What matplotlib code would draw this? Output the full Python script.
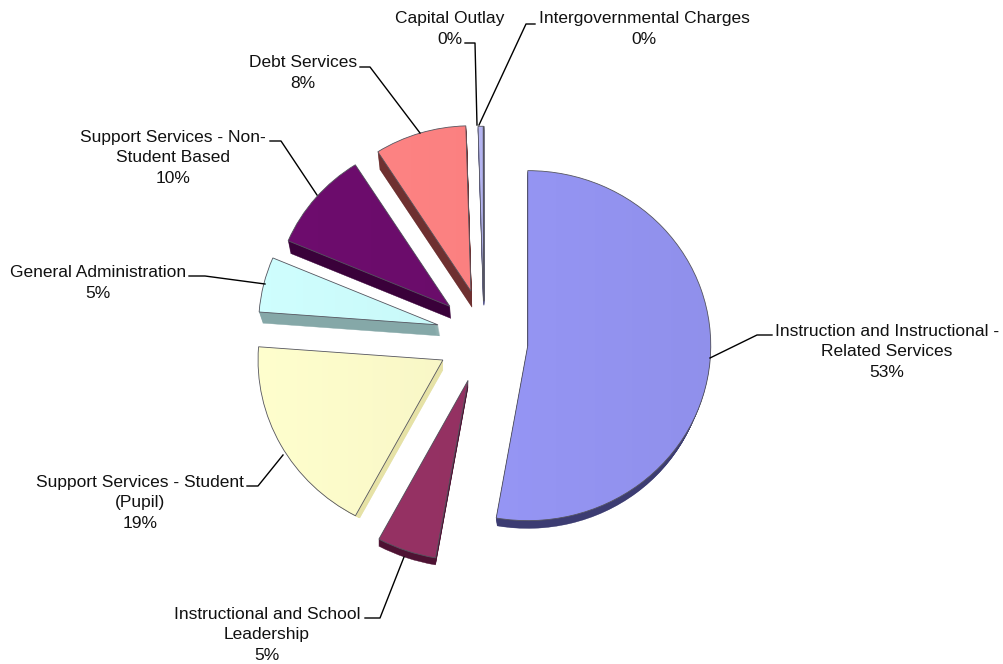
import numpy as np
import matplotlib
matplotlib.use('Agg')
import matplotlib.pyplot as plt
from matplotlib.colors import LinearSegmentedColormap, to_rgb

plt.rcParams['font.family'] = ['Liberation Sans', 'DejaVu Sans']

W, H = 1004, 664

categories = ["Instruction and Instructional -\nRelated Services",
              "Instructional and School\nLeadership",
              "Support Services - Student\n(Pupil)",
              "General Administration",
              "Support Services - Non-\nStudent Based",
              "Debt Services",
              "Capital Outlay",
              "Intergovernmental Charges"]
values = [52.9, 5.1, 18.4, 5.2, 9.6, 8.6, 0.45, 0.02]
pct_labels = ["53%", "5%", "19%", "5%", "10%", "8%", "0%", "0%"]

explode = [0.24, 0.25, 0.25, 0.27, 0.28, 0.28, 0.21, 0.21]
colors = ['#9494F2', '#933162', '#FAF7C6', '#C8FAFA', '#6A0C6A', '#FF8080', '#B4B4F0', '#B4B4F0']
side_colors = ['#3C3C72', '#4E1233', '#E6E2A6', '#85A8A8', '#3A013A', '#6E3030', '#5A5A90', '#5A5A90']

# fake perspective: the chart's 3D view makes top slices smaller than bottom ones
radius_scale = [1.0, 1.03, 1.01, 0.98, 0.96, 0.945, 1.0, 1.0]
nudge = [(0, 4), (-1, 1), (-1, 1), (2, -2), (5, 0), (2, 0), (0, 0), (0, 0)]
depths = [13, 7, 10, 11, 12, 16, 4, 4]
side_dx = [0, 0, 0, 2, 1, 1, 0, 0]
side_shrink = [0.03, 0, 0.05, 0.01, 0.01, 0.01, 0, 0]

# label centres, pixels from top left
label_pos = [(887, 352), (267, 635), (140, 503), (98, 283), (173, 158), (303, 73), (450, 29), (644, 29)]
leaders = [[(710, 358), (757, 335), (772, 335)],
           [(404, 557), (380, 618), (365, 618)],
           [(283, 455), (258, 486), (247, 486)],
           [(265, 284), (205, 276), (189, 276)],
           [(317, 195), (281, 141), (270, 141)],
           [(420, 133), (370, 67), (360, 67)],
           [(477, 125), (475, 43), (465, 43)],
           [(479, 125), (526, 24), (535, 24)]]

RX, RY = 183.0, 175.0
cx, cy = 484.0 / RX, (H - 338.0) / RY

fig = plt.figure(figsize=(W / 100, H / 100), dpi=100)
ax = fig.add_axes([0, 0, 1, 1])


def shade(color, f):
    return tuple(min(1, c * f) for c in to_rgb(color))


# extruded sides, deepest layer first
for d in range(max(depths), 0, -1):
    wedges, _ = ax.pie(values, explode=explode, colors=side_colors, startangle=90, counterclock=False,
                       center=(cx, cy), radius=1, wedgeprops=dict(linewidth=0.3, zorder=1))
    for i, w in enumerate(wedges):
        t = d / depths[i]
        x0, y0 = w.center
        w.set_center((x0 + (nudge[i][0] + side_dx[i] * t) / RX, y0 - (nudge[i][1] + d) / RY))
        w.set_radius(radius_scale[i] * (1 - side_shrink[i] * t))
        w.set_edgecolor(side_colors[i])
        w.set_visible(d <= depths[i])

# top faces
tops, _ = ax.pie(values, explode=explode, colors=colors, startangle=90, counterclock=False,
                 center=(cx, cy), radius=1, wedgeprops=dict(edgecolor='#55555f', linewidth=0.6, zorder=3))
ramp = np.linspace(0, 1, 128).reshape(1, -1)
for i, (w, color) in enumerate(zip(tops, colors)):
    x0, y0 = w.center
    x0, y0 = x0 + nudge[i][0] / RX, y0 - nudge[i][1] / RY
    w.set_center((x0, y0))
    w.set_radius(radius_scale[i])
    cmap = LinearSegmentedColormap.from_list('face', [shade(color, 1.04), shade(color, 0.97)])
    im = ax.imshow(ramp, cmap=cmap, extent=(x0 - 1.1, x0 + 1.1, y0 - 1.1, y0 + 1.1), aspect='auto', zorder=2,
                   interpolation='bilinear')
    im.set_clip_path(w)
    w.set_facecolor('none')

ax.set_aspect('auto')
ax.set_xlim(0, W / RX)
ax.set_ylim(0, H / RY)
ax.axis('off')

for cat, pct, pos, pts in zip(categories, pct_labels, label_pos, leaders):
    fig.text(pos[0] / W, 1 - pos[1] / H, cat + "\n" + pct, ha='center', va='center', fontsize=12.5,
             color='#111111', linespacing=1.42)
    xs = [p[0] / W for p in pts]
    ys = [1 - p[1] / H for p in pts]
    fig.add_artist(plt.Line2D(xs, ys, color='black', linewidth=1.0))

fig.savefig('out.png', dpi=100)
